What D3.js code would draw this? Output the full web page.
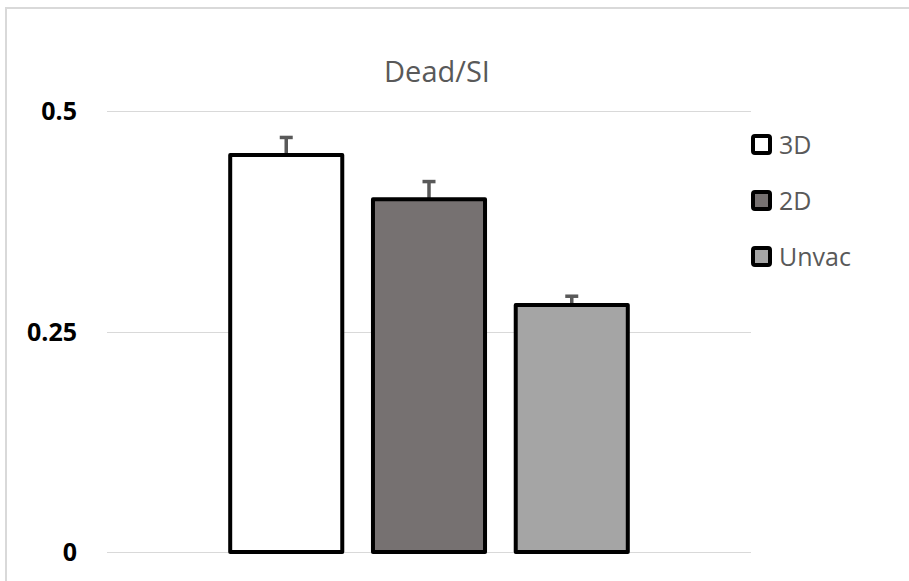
<!DOCTYPE html>
<html>
<head>
<meta charset="utf-8">
<script src="https://cdn.jsdelivr.net/npm/d3@7"></script>
<style>
  html, body { margin: 0; padding: 0; background: #fff; }
  svg { display: block; }
</style>
</head>
<body>
<svg id="chart" width="909" height="581"></svg>
<script>
const title = "Dead/SI";
const series = ["3D", "2D", "Unvac"];
const values = [0.45, 0.40, 0.28];
const errors = [0.02, 0.02, 0.01];
const colors = ["#ffffff", "#767171", "#a5a5a5"];
const yTicks = [0, 0.25, 0.5];
const yTickLabels = ["0", "0.25", "0.5"];

const svg = d3.select("#chart");
const plotLeft = 107, plotRight = 751, plotTop = 111, plotBottom = 552;

// outer chart border
svg.append("rect")
  .attr("x", 6).attr("y", 8).attr("width", 1000).attr("height", 1000)
  .attr("fill", "#fff").attr("stroke", "#d9d9d9").attr("stroke-width", 2);

const y = d3.scaleLinear().domain([0, 0.5]).range([plotBottom, plotTop]);
const x = d3.scaleBand().domain(series).range([plotLeft, plotRight])
  .paddingInner(0.215).paddingOuter(0.863);

// gridlines
svg.append("g").selectAll("line").data(yTicks).join("line")
  .attr("x1", plotLeft).attr("x2", plotRight)
  .attr("y1", d => Math.round(y(d)) + 0.5).attr("y2", d => Math.round(y(d)) + 0.5)
  .attr("stroke", "#d9d9d9").attr("stroke-width", 1);

// y labels
svg.append("g").selectAll("text").data(yTicks).join("text")
  .attr("x", 77).attr("y", d => y(d))
  .attr("dy", "0.36em")
  .attr("text-anchor", "end")
  .attr("font-family", "'Open Sans', sans-serif")
  .attr("font-weight", "bold")
  .attr("font-size", 25)
  .attr("fill", "#000")
  .text((d, i) => yTickLabels[i]);

// title
svg.append("text")
  .attr("x", 437).attr("y", 82)
  .attr("text-anchor", "middle")
  .attr("font-family", "'Open Sans', sans-serif")
  .attr("font-size", 29)
  .attr("fill", "#595959")
  .text(title);

const data = series.map((s, i) => ({ s, v: values[i], e: errors[i], c: colors[i] }));

// error bars (behind bars)
const eb = svg.append("g").attr("stroke", "#595959").attr("stroke-width", 3.5);
eb.selectAll(".stem").data(data).join("line")
  .attr("x1", d => x(d.s) + x.bandwidth() / 2).attr("x2", d => x(d.s) + x.bandwidth() / 2)
  .attr("y1", d => y(d.v)).attr("y2", d => y(d.v + d.e));
eb.selectAll(".cap").data(data).join("line")
  .attr("x1", d => x(d.s) + x.bandwidth() / 2 - 6.5).attr("x2", d => x(d.s) + x.bandwidth() / 2 + 6.5)
  .attr("y1", d => y(d.v + d.e)).attr("y2", d => y(d.v + d.e));

// bars
svg.append("g").selectAll("rect").data(data).join("rect")
  .attr("x", d => x(d.s)).attr("width", x.bandwidth())
  .attr("y", d => y(d.v)).attr("height", d => y(0) - y(d.v))
  .attr("fill", d => d.c)
  .attr("stroke", "#000").attr("stroke-width", 4)
  .attr("stroke-linejoin", "round");

// legend
const lg = svg.append("g");
const legendY = [144.5, 200.5, 256.5];
const items = lg.selectAll("g").data(data).join("g")
  .attr("transform", (d, i) => `translate(0,${legendY[i]})`);
items.append("rect")
  .attr("x", 753).attr("y", -8.5).attr("width", 17).attr("height", 17)
  .attr("rx", 2)
  .attr("fill", d => d.c).attr("stroke", "#000").attr("stroke-width", 4);
items.append("text")
  .attr("x", 779).attr("y", 0).attr("dy", "0.37em")
  .attr("font-family", "'Open Sans', sans-serif")
  .attr("font-size", 25)
  .attr("fill", "#595959")
  .text(d => d.s);
</script>
</body>
</html>
